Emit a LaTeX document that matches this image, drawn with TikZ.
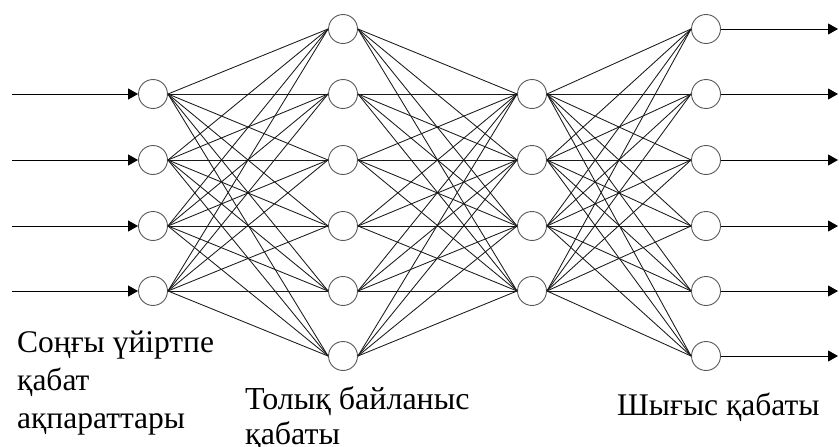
\documentclass[tikz,border=0pt]{standalone}
\usepackage{fontspec}
\setmainfont{Liberation Serif}
\usepackage{tikz}
\usetikzlibrary{arrows.meta}
\tikzset{
    neuron/.style={circle, draw=black!65, line width=0.9pt, fill=white, minimum size=29pt, inner sep=0pt},
    link/.style={draw=black!90, line width=0.85pt},
    signal/.style={-{Triangle[length=10pt, width=11pt]}, line width=1pt},
    caption/.style={font=\fontsize{31.5}{38}\selectfont, align=left, anchor=north west, inner sep=0pt}
}

\begin{document}
\begin{tikzpicture}[x=1pt, y=-1pt]
    \useasboundingbox (0,0) rectangle (839,447);

    % Last convolution layer features (inputs)
    \foreach \i/\y in {1/94, 2/160, 3/226, 4/291} {
        \node[neuron] (conv\i) at (153,\y) {};
        \coordinate (src\i) at (12,\y);
    }

    % Fully connected layers
    \foreach \i/\y in {1/29, 2/94, 3/160, 4/226, 5/291, 6/356}
        \node[neuron] (fcA\i) at (343,\y) {};
    \foreach \i/\y in {1/94, 2/160, 3/226, 4/291}
        \node[neuron] (fcB\i) at (532,\y) {};

    % Output layer
    \foreach \i/\y in {1/29, 2/94, 3/160, 4/226, 5/291, 6/356} {
        \node[neuron] (out\i) at (706,\y) {};
        \coordinate (dst\i) at (838,\y);
    }

    % Connections
    \foreach \a in {1,...,4}
        \foreach \b in {1,...,6}
            \draw[link] (conv\a.east) -- (fcA\b.west);
    \foreach \a in {1,...,6}
        \foreach \b in {1,...,4}
            \draw[link] (fcA\a.east) -- (fcB\b.west);
    \foreach \a in {1,...,4}
        \foreach \b in {1,...,6}
            \draw[link] (fcB\a.east) -- (out\b.west);

    % Signals in and out
    \foreach \i in {1,...,4}
        \draw[signal] (src\i) -- (conv\i.west);
    \foreach \i in {1,...,6}
        \draw[signal] (out\i.east) -- (dst\i);

    % Captions
    \node[caption] (capconv) at (17,331) {Соңғы үйіртпе\\қабат\\ақпараттары};
    \node[caption, font=\fontsize{32}{35}\selectfont] (capfc) at (245,386) {Толық байланыс\\қабаты};
    \node[caption] (capout) at (617,393) {Шығыс қабаты};
\end{tikzpicture}
\end{document}
